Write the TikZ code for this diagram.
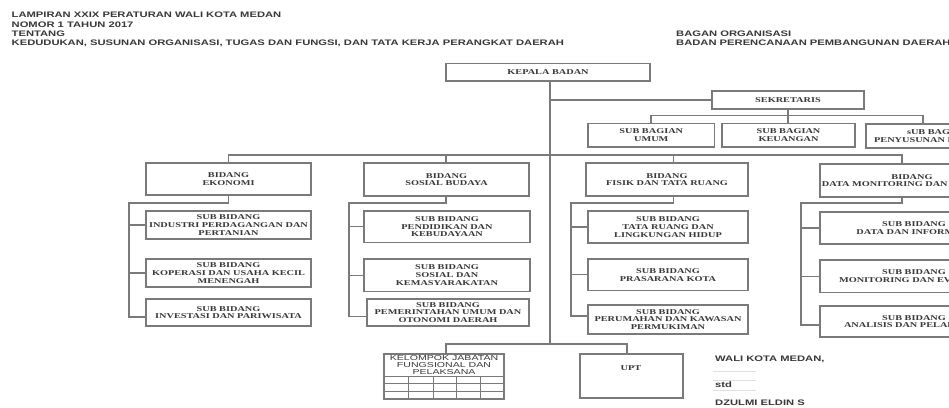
\documentclass[tikz,border=0pt]{standalone}
\usepackage{fontspec}
\setmainfont{Liberation Sans}
\newfontfamily\hdfont[FakeStretch=1.4]{Liberation Sans}
\newfontfamily\boxfont[FakeStretch=1.39]{Liberation Serif}
\newfontfamily\tabfont[FakeStretch=1.47]{Liberation Sans}
\definecolor{ln}{gray}{0.48}
\definecolor{tx}{gray}{0.22}
\tikzset{
  conn/.style={draw=ln,line width=1.25pt},
  bxs/.style={draw=ln,line width=1.25pt,fill=white,inner sep=0pt,align=center,text=tx,
    font=\boxfont\bfseries\fontsize{7.4}{7.7}\selectfont},
  hd/.style={anchor=base west,inner sep=0pt,text=tx,font=\hdfont\bfseries\fontsize{8}{9}\selectfont},
  gridl/.style={draw=ln,line width=0.9pt},
  faint/.style={draw=black!12,line width=0.6pt}
}
\newcommand\bx[6]{\node[bxs,minimum width={(#4-#2)*1pt},minimum height={(#5-#3)*1pt}] (#1) at ({(#2+#4)/2},{(#3+#5)/2}) {#6};}
\begin{document}
\begin{tikzpicture}[x=1pt,y=-1pt]
\useasboundingbox (0,0) rectangle (949,407);
\clip (0,0) rectangle (949,407);
\fill[white] (0,0) rectangle (949,407);
% header
\node[hd] (h1) at (11.5,17.8) {LAMPIRAN XXIX PERATURAN WALI KOTA MEDAN};
\node[hd] (h2) at (11.5,27.2) {NOMOR 1 TAHUN 2017};
\node[hd] (h3) at (11.5,36.3) {TENTANG};
\node[hd] (h4) at (11.5,45.6) {KEDUDUKAN, SUSUNAN ORGANISASI, TUGAS DAN FUNGSI, DAN TATA KERJA PERANGKAT DAERAH};
\node[hd] (h5) at (676,36.3) {BAGAN ORGANISASI};
\node[hd] (h6) at (676,45.6) {BADAN PERENCANAAN PEMBANGUNAN DAERAH};
% coordinates for connectors
\coordinate (trunkend) at (550,344);
\coordinate (sbL) at (651,115.5);
\coordinate (sbR) at (923,115.5);
\coordinate (busL) at (228.5,155);
\coordinate (busB) at (446,155);
\coordinate (busC) at (673.5,155);
\coordinate (busR) at (902,155);
\coordinate (a0) at (129,203);
\coordinate (a1) at (129,317);
\coordinate (b0) at (349,203);
\coordinate (b1) at (349,316.5);
\coordinate (c0) at (571,203);
\coordinate (c1) at (571,316);
\coordinate (d0) at (801,203);
\coordinate (d1) at (801,325);
\coordinate (lowL) at (446,344);
\coordinate (lowR) at (627,344);
% boxes
\bx{kepala}{446}{63.5}{650}{81}{KEPALA BADAN}
\bx{sek}{712}{91}{864}{109}{SEKRETARIS}
\bx{umum}{588}{123.5}{714.5}{147}{SUB BAGIAN\\UMUM}
\bx{keu}{722}{123.5}{855}{147}{SUB BAGIAN\\KEUANGAN}
\bx{prog}{866}{124}{1010}{148}{sUB BAGIAN\\PENYUSUNAN PROGRAM}
\bx{ekon}{146}{163}{311}{195}{BIDANG\\EKONOMI}
\bx{sos}{364}{163}{529}{196}{BIDANG\\SOSIAL BUDAYA}
\bx{fis}{586}{163}{748}{196}{BIDANG\\FISIK DAN TATA RUANG}
\bx{dat}{820}{164}{1004}{197}{BIDANG\\DATA MONITORING DAN EVALUASI}
\bx{a1b}{146}{211}{311}{239}{SUB BIDANG\\INDUSTRI PERDAGANGAN DAN\\PERTANIAN}
\bx{a2b}{146}{259}{311}{287}{SUB BIDANG\\KOPERASI DAN USAHA KECIL\\MENENGAH}
\bx{a3b}{146}{299}{311}{326}{SUB BIDANG\\INVESTASI DAN PARIWISATA}
\bx{b1b}{364}{211}{530}{242.5}{SUB BIDANG\\PENDIDIKAN DAN\\KEBUDAYAAN}
\bx{b2b}{364}{259}{530}{291.5}{SUB BIDANG\\SOSIAL DAN\\KEMASYARAKATAN}
\bx{b3b}{367}{299}{529}{326}{SUB BIDANG\\PEMERINTAHAN UMUM DAN\\OTONOMI DAERAH}
\bx{c1b}{588}{211}{748}{243}{SUB BIDANG\\TATA RUANG DAN\\LINGKUNGAN HIDUP}
\bx{c2b}{588}{259}{748}{290.5}{SUB BIDANG\\PRASARANA KOTA}
\bx{c3b}{588}{305}{748}{334}{SUB BIDANG\\PERUMAHAN DAN KAWASAN\\PERMUKIMAN}
\bx{d1b}{820}{212}{1008}{244}{SUB BIDANG\\DATA DAN INFORMASI}
\bx{d2b}{820}{260}{1008}{292.5}{SUB BIDANG\\MONITORING DAN EVALUASI}
\bx{d3b}{820}{306}{1008}{337}{SUB BIDANG\\ANALISIS DAN PELAPORAN}
\bx{kel}{384}{354}{504}{399}{}
\node[inner sep=0pt,align=center,text=tx,font=\tabfont\fontsize{7.2}{7.2}\selectfont] (keltxt) at (444,365) {KELOMPOK JABATAN\\FUNGSIONAL DAN\\PELAKSANA};
\bx{upt}{580}{354}{683}{398}{}
\node[inner sep=0pt,text=tx,font=\boxfont\bfseries\fontsize{7.4}{8}\selectfont] (upttxt) at (631,368) {UPT};
% table grid
\foreach \yy in {376,383.5,391} \draw[gridl] (kel.west |- 0,\yy) -- (kel.east |- 0,\yy);
\foreach \xx in {408,433,456,480} \draw[gridl] (\xx,376) -- (\xx,399);
% connectors
\draw[conn] (kepala.south -| trunkend) -- (trunkend);
\draw[conn] (sek.west) -- (sek.west -| trunkend);
\draw[conn] (sek.south) -- (sek.south |- umum.north);
\draw[conn] (sbL |- umum.north) -- (sbL) -- (sbR) -- (sbR |- prog.north);
\draw[conn] (busL |- ekon.north) -- (busL) -- (busR) -- (busR |- dat.north);
\draw[conn] (busB) -- (busB |- sos.north);
\draw[conn] (busC) -- (busC |- fis.north);
\draw[conn] (busL |- ekon.south) -- (busL |- a0) -- (a0) -- (a1) -- (a1 -| a3b.west);
\draw[conn] (a0 |- a1b.west) -- (a1b.west);
\draw[conn] (a0 |- a2b.west) -- (a2b.west);
\draw[conn] (busB |- sos.south) -- (busB |- b0) -- (b0) -- (b1) -- (b1 -| b3b.west);
\draw[conn] (b0 |- b1b.west) -- (b1b.west);
\draw[conn] (b0 |- b2b.west) -- (b2b.west);
\draw[conn] (busC |- fis.south) -- (busC |- c0) -- (c0) -- (c1) -- (c1 -| c3b.west);
\draw[conn] (c0 |- c1b.west) -- (c1b.west);
\draw[conn] (c0 |- c2b.west) -- (c2b.west);
\draw[conn] (busR |- dat.south) -- (busR |- d0) -- (d0) -- (d1) -- (d1 -| d3b.west);
\draw[conn] (d0 |- d1b.west) -- (d1b.west);
\draw[conn] (d0 |- d2b.west) -- (d2b.west);
\draw[conn] (kel.north -| lowL) -- (lowL) -- (lowR) -- (lowR |- upt.north);
% signature
\node[hd] (s1) at (715,361) {WALI KOTA MEDAN,};
\draw[faint] (713,371) -- (756,371);
\draw[faint] (713,380) -- (756,380);
\node[hd] (s2) at (715,387) {std};
\draw[faint] (713,390) -- (756,390);
\node[hd] (s3) at (715,405) {DZULMI ELDIN S};
\end{tikzpicture}
\end{document}
